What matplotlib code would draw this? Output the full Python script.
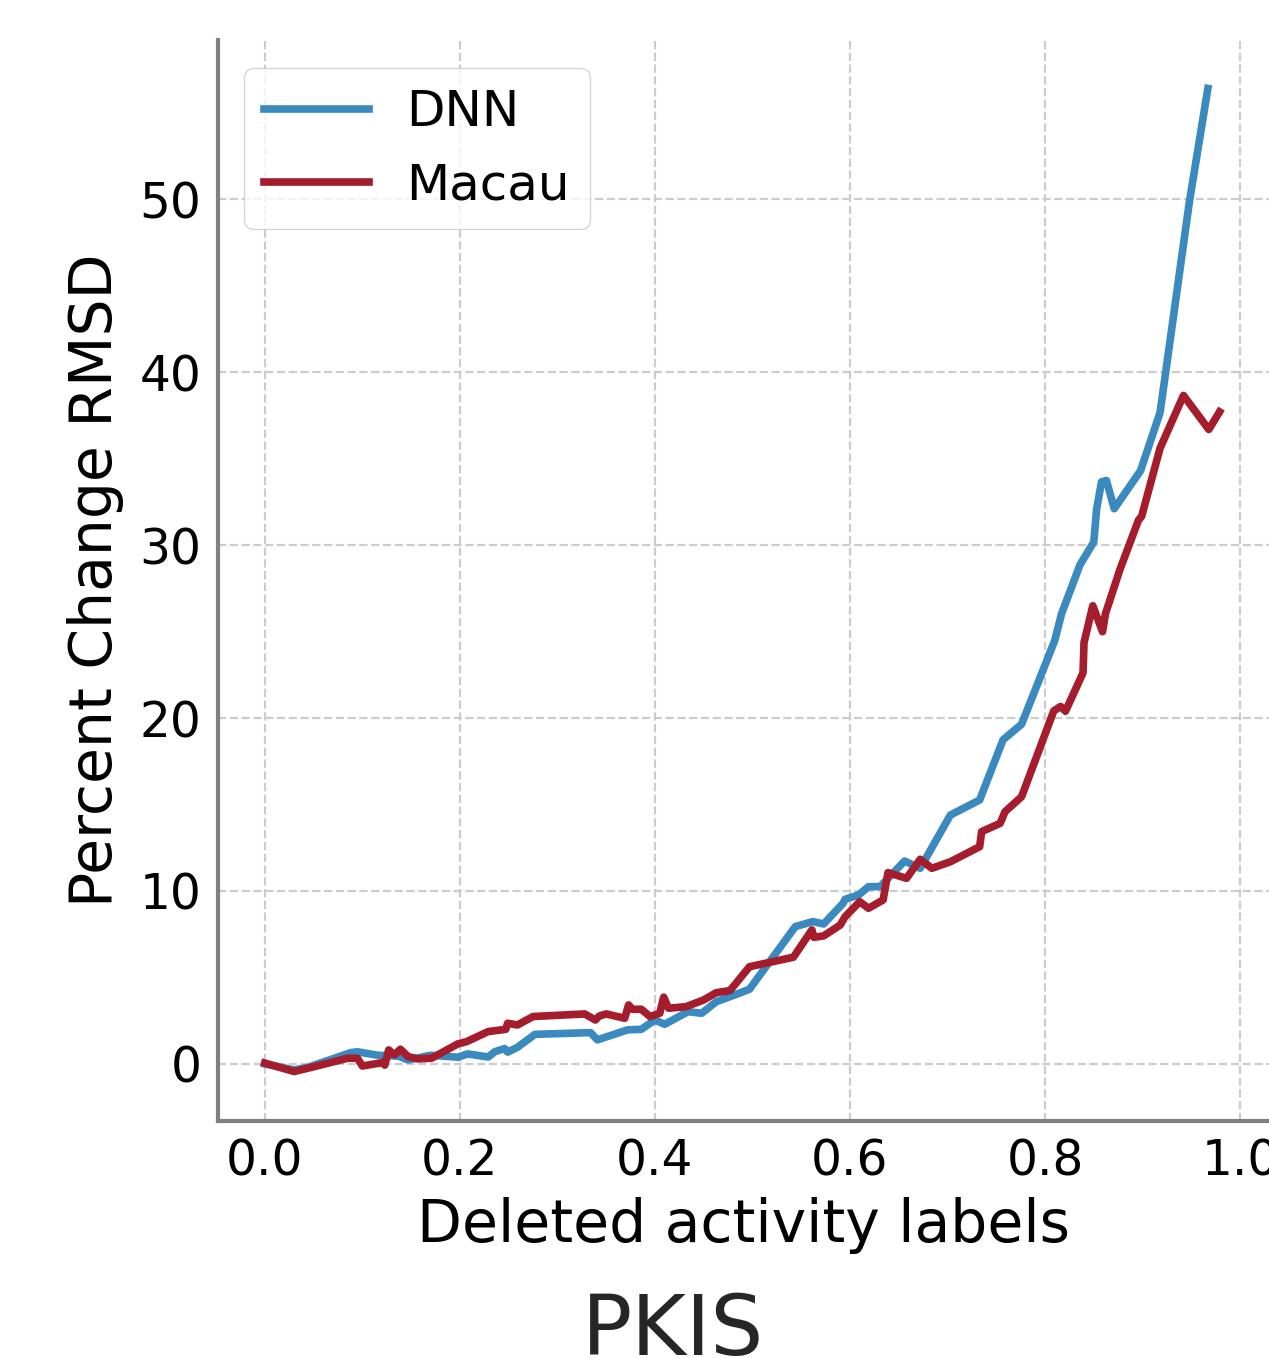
import matplotlib
matplotlib.use("Agg")
import matplotlib.pyplot as plt

dnn_x = [0.000, 0.030, 0.044, 0.088, 0.095, 0.116, 0.137, 0.147, 0.170, 0.198, 0.208, 0.229, 0.236, 0.246,
         0.249, 0.259, 0.277, 0.334, 0.341, 0.372, 0.386, 0.400, 0.410, 0.434, 0.448, 0.463, 0.482, 0.497,
         0.544, 0.562, 0.573, 0.593, 0.595, 0.609, 0.619, 0.631, 0.656, 0.672, 0.703, 0.733, 0.757, 0.776,
         0.810, 0.817, 0.836, 0.850, 0.853, 0.858, 0.863, 0.871, 0.898, 0.918, 0.948, 0.967]
dnn_y = [0.0, -0.35, -0.2, 0.65, 0.7, 0.5, 0.45, 0.23, 0.5, 0.39, 0.58, 0.4, 0.71, 0.89,
         0.68, 0.96, 1.71, 1.81, 1.39, 1.97, 2.0, 2.54, 2.29, 3.02, 2.93, 3.6, 3.99, 4.32,
         7.94, 8.23, 8.09, 9.29, 9.52, 9.77, 10.25, 10.25, 11.73, 11.31, 14.39, 15.26, 18.74, 19.64,
         24.48, 26.03, 28.87, 30.17, 32.1, 33.66, 33.73, 32.1, 34.3, 37.66, 49.82, 56.4]

macau_x = [0.000, 0.030, 0.044, 0.085, 0.095, 0.100, 0.121, 0.123, 0.127, 0.133, 0.139, 0.147, 0.157, 0.171,
           0.198, 0.207, 0.229, 0.247, 0.249, 0.259, 0.275, 0.328, 0.339, 0.343, 0.350, 0.369, 0.373, 0.377,
           0.386, 0.395, 0.405, 0.409, 0.414, 0.432, 0.450, 0.463, 0.477, 0.497, 0.542, 0.561, 0.563, 0.573,
           0.590, 0.595, 0.610, 0.619, 0.634, 0.639, 0.658, 0.672, 0.684, 0.703, 0.733, 0.735, 0.754, 0.759,
           0.776, 0.809, 0.816, 0.821, 0.839, 0.840, 0.849, 0.859, 0.862, 0.877, 0.896, 0.899, 0.918, 0.942,
           0.968, 0.979]
macau_y = [0.05, -0.44, -0.25, 0.33, 0.33, -0.12, 0.08, -0.07, 0.81, 0.52, 0.85, 0.42, 0.29, 0.33,
           1.16, 1.29, 1.87, 2.0, 2.35, 2.25, 2.74, 2.89, 2.54, 2.77, 2.89, 2.64, 3.41, 3.16,
           3.16, 2.74, 2.93, 3.86, 3.22, 3.31, 3.70, 4.12, 4.24, 5.62, 6.17, 7.75, 7.32, 7.40,
           8.03, 8.51, 9.38, 9.0, 9.48, 11.06, 10.73, 11.83, 11.31, 11.69, 12.56, 13.43, 13.91, 14.58,
           15.45, 20.41, 20.67, 20.39, 22.61, 24.35, 26.49, 24.99, 26.03, 28.61, 31.46, 31.64, 35.6, 38.65,
           36.68, 37.7]

x_ticks = [0.0, 0.2, 0.4, 0.6, 0.8, 1.0]
y_ticks = [0, 10, 20, 30, 40, 50]

W, H = 1269, 1358
fig = plt.figure(figsize=(W / 100, H / 100), dpi=100)
ax = fig.add_axes([218 / W, 1 - 1121 / H, 1 - 218 / W, (1121 - 40) / H])

ax.plot(dnn_x, dnn_y, color="#3A8AC0", lw=5.5, label="DNN")
ax.plot(macau_x, macau_y, color="#A51C2D", lw=5.5, label="Macau")

ax.set_xlim(-0.048, 1.0297)
ax.set_ylim(-3.3, 59.2)
ax.set_xticks(x_ticks)
ax.set_yticks(y_ticks)
ax.set_xticklabels([f"{v:.1f}" for v in x_ticks])
ax.grid(True, ls="--", color="#cccccc", lw=1.6)
ax.set_axisbelow(True)
for s in ["top", "right"]:
    ax.spines[s].set_visible(False)
for s in ["left", "bottom"]:
    ax.spines[s].set_color("#808080")
    ax.spines[s].set_linewidth(3)
ax.tick_params(axis="both", length=0, labelsize=35, pad=12)

ax.set_xlabel("Deleted activity labels", fontsize=42, labelpad=8)
ax.set_ylabel("Percent Change RMSD", fontsize=42, labelpad=11)

leg = ax.legend(loc="upper left", bbox_to_anchor=(244 / W, 1 - 68 / H), bbox_transform=fig.transFigure,
                borderaxespad=0, fontsize=36, handlelength=2.1, handletextpad=0.75, borderpad=0.4,
                labelspacing=0.5, frameon=True, fancybox=True, edgecolor="#cccccc")

fig.text(673 / W, 1 - 1332 / H, "PKIS", fontsize=60, color="#262626", ha="center", va="center")

fig.savefig("out.png", dpi=100)
